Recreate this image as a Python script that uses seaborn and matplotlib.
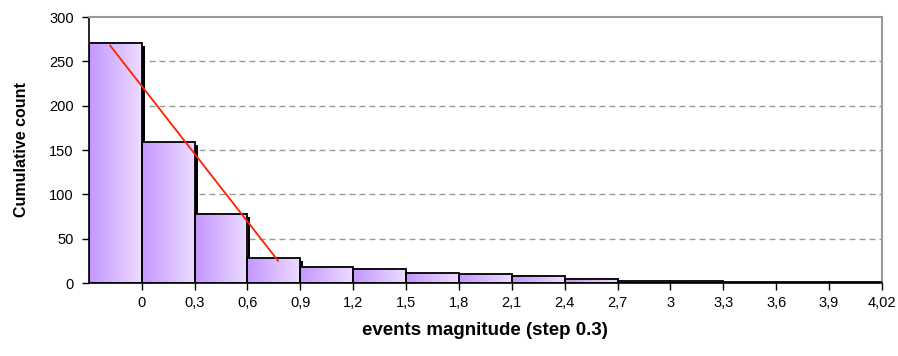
import numpy as np
import pandas as pd
import matplotlib
matplotlib.use("Agg")
import matplotlib.pyplot as plt
import matplotlib.transforms as mtransforms
from matplotlib.colors import LinearSegmentedColormap
from matplotlib.patches import Rectangle
import seaborn as sns

# magnitude bin edges shown on the x axis (step 0.3)
tick_labels = ["0", "0,3", "0,6", "0,9", "1,2", "1,5", "1,8", "2,1", "2,4",
               "2,7", "3", "3,3", "3,6", "3,9", "4,02"]
# cumulative count per bin
counts = [271, 159, 78, 28, 18, 16, 11, 10, 8, 5, 2, 2, 1, 1, 1]
# red fit line (ends)
fit_x = [-0.1, 3.08]
fit_y = [268, 25]

df = pd.DataFrame({"bin": [f"b{i}" for i in range(len(counts))], "count": counts})

sns.set_theme(style="white")
plt.rcParams["font.family"] = ["Liberation Sans", "DejaVu Sans"]
plt.rcParams["text.color"] = "black"
plt.rcParams["axes.labelcolor"] = "black"

fig, ax = plt.subplots(figsize=(8.98, 3.56), dpi=100)
fig.subplots_adjust(left=0.099, right=0.982, top=0.952, bottom=0.205)

sns.barplot(data=df, x="bin", y="count", width=1, ax=ax, color="white",
            edgecolor="black", linewidth=1.3, zorder=3)

# purple gradient fill + black drop shadow, like the old Excel look
cmap = LinearSegmentedColormap.from_list("purp", ["#c497ff", "#ecdcff"])
grad = np.linspace(0, 1, 64).reshape(1, -1)
shift = ax.transData + mtransforms.ScaledTranslation(3 / 100, -3 / 100, fig.dpi_scale_trans)
for bar in ax.patches:
    x0, w, h = bar.get_x(), bar.get_width(), bar.get_height()
    bar.set_facecolor("none")
    ax.add_patch(Rectangle((x0, 0), w, h, facecolor="black", edgecolor="none",
                           transform=shift, zorder=1))
    ax.imshow(grad, extent=(x0, x0 + w, 0, h), cmap=cmap, aspect="auto",
              interpolation="bilinear", zorder=2)

ax.plot(fit_x, fit_y, color="#ff2000", lw=1.3, zorder=4)

for y in range(50, 300, 50):
    ax.axhline(y, color="#999999", lw=1, ls=(0, (4.3, 2.9)), zorder=0)

ax.set_xlim(-0.5, len(counts) - 0.5)
ax.set_ylim(0, 300)
ax.set_yticks(range(0, 301, 50))
ax.set_xticks(np.arange(len(counts)) + 0.5)
ax.set_xticklabels(tick_labels)
ax.tick_params(axis="both", direction="out", length=5, width=1, color="black",
               labelsize=10.5, labelcolor="black", bottom=True, left=True)
ax.tick_params(axis="y", pad=6)
ax.tick_params(axis="x", pad=4)

for side in ["left", "bottom"]:
    ax.spines[side].set_color("black")
    ax.spines[side].set_linewidth(1.2)
for side in ["top", "right"]:
    ax.spines[side].set_color("#999999")
    ax.spines[side].set_linewidth(1.5)

ax.set_xlabel("events magnitude (step 0.3)", fontsize=13.5, fontweight="bold", color="black")
ax.set_ylabel("Cumulative count", fontsize=11.5, fontweight="bold", color="black")
ax.xaxis.set_label_coords(0.5, -0.145)
ax.yaxis.set_label_coords(-0.075, 0.5)

plt.savefig("out.png", dpi=100)
